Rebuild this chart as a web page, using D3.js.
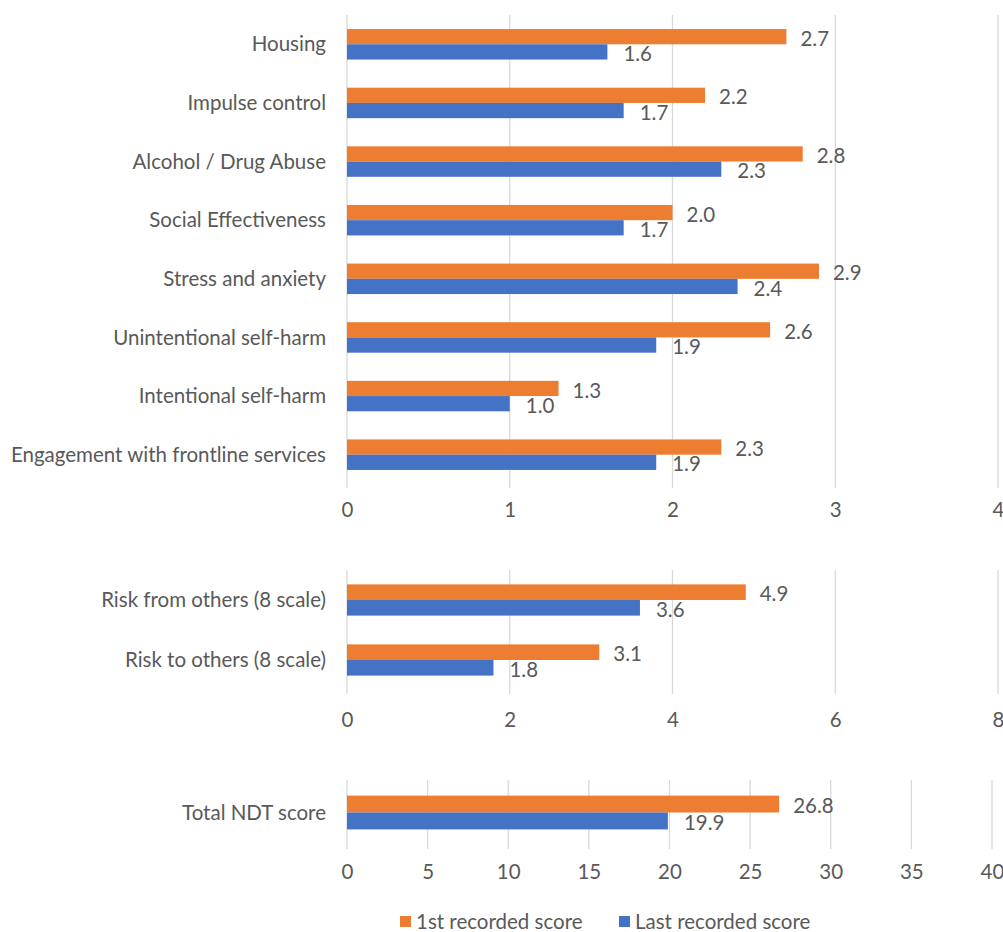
<!DOCTYPE html>
<html><head><meta charset="utf-8">
<script src="https://cdn.jsdelivr.net/npm/d3@7"></script>
<style>body{margin:0;background:#fff}svg{display:block}text{font-family:Lato,"Open Sans",sans-serif;fill:#595959}</style>
</head><body>
<svg id="c" width="1003" height="932"></svg>
<script>
const seriesNames = ["1st recorded score", "Last recorded score"];
const seriesColors = ["#ED7D31", "#4472C4"];

const cats1 = ["Housing","Impulse control","Alcohol / Drug Abuse","Social Effectiveness","Stress and anxiety","Unintentional self-harm","Intentional self-harm","Engagement with frontline services"];
const first1 = [2.7,2.2,2.8,2.0,2.9,2.6,1.3,2.3];
const last1  = [1.6,1.7,2.3,1.7,2.4,1.9,1.0,1.9];
const ticks1 = [0,1,2,3,4];

const cats2 = ["Risk from others (8 scale)","Risk to others (8 scale)"];
const first2 = [4.9,3.1];
const last2  = [3.6,1.8];
const ticks2 = [0,2,4,6,8];

const cats3 = ["Total NDT score"];
const first3 = [26.8];
const last3  = [19.9];
const ticks3 = [0,5,10,15,20,25,30,35,40];

const FS = 20.5;
const svg = d3.select("#c");

function panel(cats, first, last, ticks, x0, x1, top, bottom, tickY){
  const x = d3.scaleLinear().domain([ticks[0], ticks[ticks.length-1]]).range([x0, x1]);
  const y = d3.scaleBand().domain(cats).range([top, bottom]).paddingInner(0.48).paddingOuter(0.24);
  const ys = d3.scaleBand().domain([0,1]).range([0, y.bandwidth()]);
  const g = svg.append("g");
  g.selectAll("line.grid").data(ticks).join("line")
    .attr("x1", d => x(d)).attr("x2", d => x(d))
    .attr("y1", top).attr("y2", bottom + 4)
    .attr("stroke", "#d9d9d9").attr("stroke-width", 1.3);
  const ax = g.append("g").attr("transform", `translate(0,${tickY})`)
    .call(d3.axisBottom(x).tickValues(ticks).tickSize(0).tickPadding(0).tickFormat(d3.format("d")));
  ax.select(".domain").remove();
  ax.selectAll("text").attr("font-size", FS).attr("fill", "#595959").attr("dy", "0.32em")
    .style("font-family", "Lato, sans-serif");
  g.selectAll("text.cat").data(cats).join("text")
    .attr("x", x0 - 21).attr("y", d => y(d) + y.bandwidth()/2)
    .attr("text-anchor", "end").attr("dy", "0.35em").attr("font-size", FS).text(d => d);
  const rows = cats.map((c,i) => [{c, s:0, v:first[i]}, {c, s:1, v:last[i]}]).flat();
  g.selectAll("rect.bar").data(rows).join("rect")
    .attr("x", x(0)).attr("y", d => y(d.c) + ys(d.s))
    .attr("width", d => x(d.v) - x(0)).attr("height", ys.bandwidth())
    .attr("fill", d => seriesColors[d.s]);
  g.selectAll("text.val").data(rows).join("text")
    .attr("x", d => x(d.v) + (d.s === 0 ? 14 : 16))
    .attr("y", d => y(d.c) + ys(d.s) + ys.bandwidth()/2 + 2)
    .attr("dy", "0.35em").attr("font-size", FS)
    .text(d => d3.format(".1f")(d.v));
}

panel(cats1, first1, last1, ticks1, 347, 998, 15, 484, 510);
panel(cats2, first2, last2, ticks2, 347, 998, 570, 690, 720);
panel(cats3, first3, last3, ticks3, 347, 992, 780, 845, 872);

const leg = svg.append("g");
const legX = [400, 619];
seriesNames.forEach((n,i) => {
  leg.append("rect").attr("x", legX[i]).attr("y", 916).attr("width", 11).attr("height", 11).attr("fill", seriesColors[i]);
  leg.append("text").attr("x", legX[i] + 16).attr("y", 922).attr("dy", "0.35em").attr("font-size", FS).text(n);
});
</script>
</body></html>
